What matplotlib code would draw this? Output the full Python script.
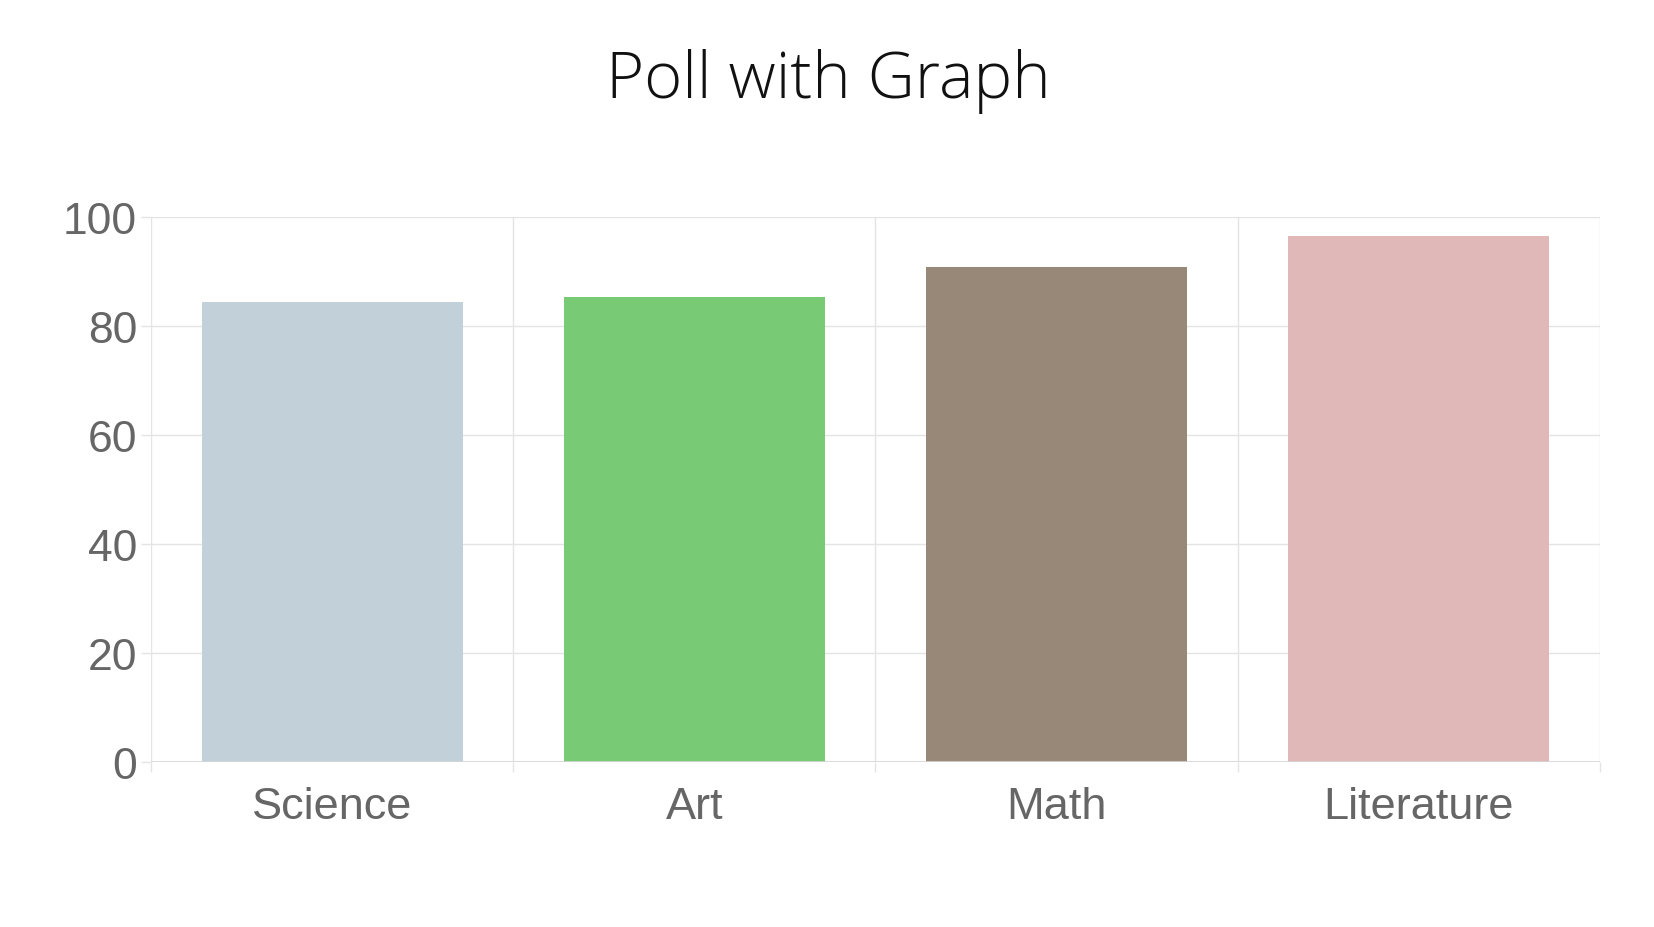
import matplotlib
matplotlib.use('Agg')
import matplotlib.pyplot as plt
import numpy as np

subjects = ['Science', 'Art', 'Math', 'Literature']
votes = [84.4, 85.3, 90.9, 96.6]
bar_colors = ['#c2d1d9', '#78cb74', '#988877', '#dfb8b7']
y_ticks = [0, 20, 40, 60, 80, 100]

grid_color = '#e4e4e4'
label_color = '#666666'

fig = plt.figure(figsize=(16.54, 9.28), dpi=100)
ax = fig.add_axes([0.0913, 0.1782, 0.876, 0.5866])

x = np.arange(len(subjects))
ax.bar(x, votes, width=0.72, color=bar_colors, zorder=2)

ax.set_xlim(-0.5, len(subjects) - 0.5)
ax.set_ylim(0, 100)

# category ticks for labels, boundary ticks for the grid lines
ax.set_xticks(x)
ax.set_xticklabels(subjects)
ax.set_xticks(np.arange(len(subjects) + 1) - 0.5, minor=True)
ax.set_yticks(y_ticks)

ax.grid(True, which='minor', axis='x', color=grid_color, linewidth=1, zorder=0)
ax.grid(True, which='major', axis='y', color=grid_color, linewidth=1, zorder=0)

for s in ax.spines.values():
    s.set_visible(False)
ax.axhline(0, color='#d6d6d6', linewidth=1.2, zorder=3)

ax.tick_params(axis='x', which='major', length=0, pad=17.5,
               labelsize=32.5, labelcolor=label_color)
ax.tick_params(axis='x', which='minor', length=7, width=1, color=grid_color)
ax.tick_params(axis='y', which='major', length=7, width=1, color=grid_color,
               pad=3, labelsize=32, labelcolor=label_color)

for lab in ax.get_xticklabels() + ax.get_yticklabels():
    lab.set_family(['Liberation Sans', 'DejaVu Sans'])

fig.text(0.501, 0.912, 'Poll with Graph', ha='center', va='center',
         fontsize=47, fontweight='light', color='#111111',
         family=['Open Sans', 'DejaVu Sans'])

fig.savefig('out.png', dpi=100)
